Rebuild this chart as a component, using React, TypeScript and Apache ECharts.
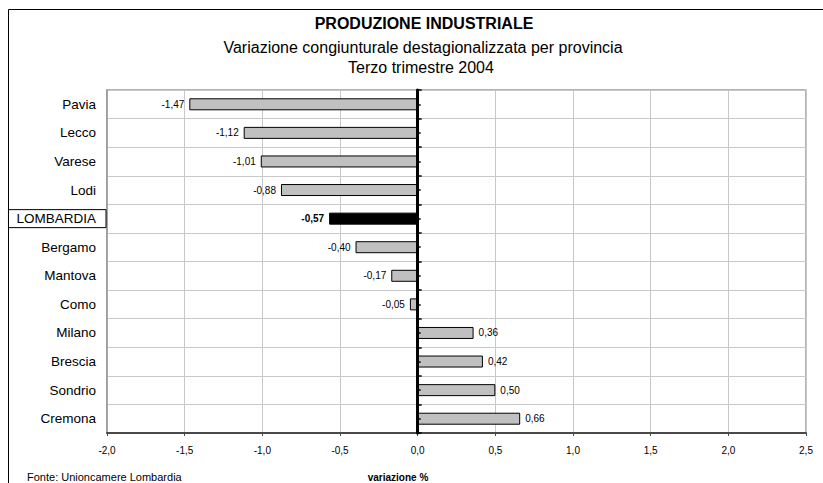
import React, { useEffect, useRef } from "react";
import * as echarts from "echarts";

const categories = ["Pavia", "Lecco", "Varese", "Lodi", "LOMBARDIA", "Bergamo", "Mantova", "Como", "Milano", "Brescia", "Sondrio", "Cremona"];
const values = [-1.47, -1.12, -1.01, -0.88, -0.57, -0.4, -0.17, -0.05, 0.36, 0.42, 0.5, 0.66];
const highlight = "LOMBARDIA";
const titleLines = ["PRODUZIONE INDUSTRIALE", "Variazione congiunturale destagionalizzata per provincia", "Terzo trimestre 2004"];
const sourceText = "Fonte: Unioncamere Lombardia";
const axisTitle = "variazione %";
const xMin = -2;
const xMax = 2.5;
const xStep = 0.5;

const fmt = (v: number) => v.toFixed(2).replace(".", ",");
const FONT = "Arial, 'Liberation Sans', Helvetica, sans-serif";

export default function App() {
  const ref = useRef<HTMLDivElement>(null);
  useEffect(() => {
    if (!ref.current) return;
    const chart = echarts.init(ref.current, undefined, { renderer: "svg" });
    const data = values.map((v, i) => {
      const isHi = categories[i] === highlight;
      return {
        value: v,
        itemStyle: { color: isHi ? "#000000" : "#C0C0C0" },
        label: {
          show: true,
          position: v < 0 ? "left" : "right",
          distance: 5,
          fontSize: 10,
          fontWeight: isHi ? "bold" : "normal",
          color: "#000",
          fontFamily: FONT,
          formatter: () => fmt(v),
        },
      };
    });
    const catAxisBase = {
      type: "category",
      data: categories,
      inverse: true,
      gridIndex: 0,
    };
    chart.setOption({
      animation: false,
      textStyle: { fontFamily: FONT },
      grid: {
        left: 107,
        right: 17,
        top: 90,
        bottom: 50,
        show: true,
        borderColor: "#9A9A9A",
        borderWidth: 1.5,
        backgroundColor: "transparent",
      },
      xAxis: {
        type: "value",
        min: xMin,
        max: xMax,
        interval: xStep,
        axisLine: { show: true, onZero: false, lineStyle: { color: "#4A4A4A", width: 2 } },
        axisTick: { show: true, length: 3, lineStyle: { color: "#4A4A4A", width: 1 } },
        axisLabel: {
          fontSize: 10,
          color: "#000",
          margin: 12,
          fontFamily: FONT,
          formatter: (v: number) => v.toFixed(1).replace(".", ","),
        },
        splitLine: { show: true, lineStyle: { color: "#C8C8C8", width: 1 } },
      },
      yAxis: [
        {
          ...catAxisBase,
          axisLine: { show: true, onZero: false, lineStyle: { color: "#9A9A9A", width: 1.5 } },
          axisTick: { show: false },
          splitLine: { show: true, lineStyle: { color: "#C8C8C8", width: 1 } },
          axisLabel: {
            margin: 1,
            color: "#000",
            fontSize: 13.5,
            fontFamily: FONT,
            formatter: (v: string) => (v === highlight ? `{b|${v}}` : `{n|${v}}`),
            rich: {
              n: { fontSize: 13.5, color: "#000", padding: [0, 10, 0, 0], fontFamily: FONT },
              b: {
                fontSize: 13.5,
                color: "#000",
                fontFamily: FONT,
                borderColor: "#000",
                borderWidth: 1,
                lineHeight: 16,
                padding: [2, 10, 2, 8],
              },
            },
          },
        },
        {
          ...catAxisBase,
          z: 5,
          axisLine: { show: true, onZero: true, onZeroAxisIndex: 0, lineStyle: { color: "#000", width: 3 } },
          axisTick: { show: true, length: 4, lineStyle: { color: "#000", width: 1.5 } },
          axisLabel: { show: false },
          splitLine: { show: false },
        },
        {
          ...catAxisBase,
          z: 5,
          axisLine: { show: false, onZero: true, onZeroAxisIndex: 0 },
          axisTick: { show: true, alignWithLabel: true, length: 3, lineStyle: { color: "#000", width: 1.5 } },
          axisLabel: { show: false },
          splitLine: { show: false },
        },
      ],
      series: [
        {
          type: "bar",
          yAxisIndex: 0,
          barWidth: 12,
          data,
          itemStyle: { borderColor: "#000", borderWidth: 1 },
        },
      ],
      graphic: [
        { type: "line", shape: { x1: 8.5, y1: 9.5, x2: 823, y2: 9.5 }, style: { stroke: "#000", lineWidth: 1 } },
        { type: "line", shape: { x1: 8.5, y1: 9.5, x2: 8.5, y2: 483 }, style: { stroke: "#000", lineWidth: 1 } },
        {
          type: "text",
          x: 424,
          y: 23,
          style: { text: titleLines[0], font: `bold 16px ${FONT}`, fill: "#000", textAlign: "center", textVerticalAlign: "middle" },
        },
        {
          type: "text",
          x: 423,
          y: 47,
          style: { text: titleLines[1], font: `16px ${FONT}`, fill: "#000", textAlign: "center", textVerticalAlign: "middle" },
        },
        {
          type: "text",
          x: 421,
          y: 67,
          style: { text: titleLines[2], font: `16px ${FONT}`, fill: "#000", textAlign: "center", textVerticalAlign: "middle" },
        },
        {
          type: "text",
          x: 27,
          y: 477,
          style: { text: sourceText, font: `11px ${FONT}`, fill: "#000", textAlign: "left", textVerticalAlign: "middle" },
        },
        {
          type: "text",
          x: 398,
          y: 477,
          style: { text: axisTitle, font: `bold 10px ${FONT}`, fill: "#000", textAlign: "center", textVerticalAlign: "middle" },
        },
      ],
    });
    return () => chart.dispose();
  }, []);
  return <div ref={ref} style={{ position: "fixed", left: 0, top: 0, width: 823, height: 483, background: "#fff" }} />;
}
